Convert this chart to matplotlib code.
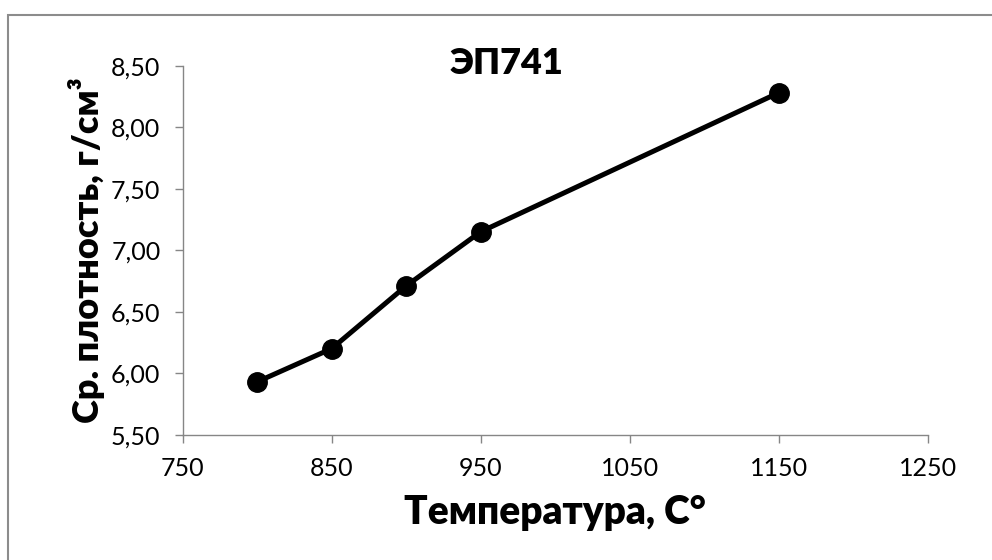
import matplotlib
matplotlib.use("Agg")
import matplotlib.pyplot as plt
from matplotlib.patches import Rectangle

temperature = [800, 850, 900, 950, 1150]
density = [5.93, 6.20, 6.71, 7.15, 8.28]
x_ticks = [750, 850, 950, 1050, 1150, 1250]
y_ticks = [5.50, 6.00, 6.50, 7.00, 7.50, 8.00, 8.50]

title = "ЭП741"
x_label = "Температура, С°"
y_label = "Ср. плотность, г/см³"

plt.rcParams['font.family'] = ['Lato', 'DejaVu Sans']

W, H = 992, 560
fig = plt.figure(figsize=(W / 100, H / 100), dpi=100)
fig.patch.set_facecolor("white")

# outer chart border (right and bottom edges lie outside the image)
fig.patches.append(Rectangle((8 / W, -0.1), 1.2, 1.1 - 15 / H, transform=fig.transFigure,
                             fill=False, edgecolor="#8c8c8c", linewidth=1.5))

ax = fig.add_axes([182.7 / W, 1 - 434.7 / H, (927.7 - 182.7) / W, (434.7 - 65.7) / H])
ax.plot(temperature, density, color="black", linewidth=3.6, marker="o",
        markersize=14, markerfacecolor="black", markeredgecolor="black", clip_on=False)

ax.set_xlim(750, 1250)
ax.set_ylim(5.5, 8.5)
ax.set_xticks(x_ticks)
ax.set_yticks(y_ticks)
ax.set_xticklabels([str(v) for v in x_ticks])
ax.set_yticklabels([f"{v:.2f}".replace(".", ",") for v in y_ticks])

for s in ["top", "right"]:
    ax.spines[s].set_visible(False)
for s in ["left", "bottom"]:
    ax.spines[s].set_color("#868686")
    ax.spines[s].set_linewidth(1)
ax.tick_params(axis="both", colors="#868686", length=6, width=1, labelsize=18,
               labelcolor="black", direction="out")
ax.tick_params(axis="x", pad=10)
ax.tick_params(axis="y", pad=10)

ax.set_xlabel(x_label, fontsize=28, fontweight="heavy", labelpad=10)
ax.set_ylabel(y_label, fontsize=26, fontweight="heavy", labelpad=4)
fig.text(507 / W, 1 - 63 / H, title, fontsize=26, fontweight="heavy",
         ha="center", va="center")

fig.savefig("out.png", dpi=100, facecolor="white")
